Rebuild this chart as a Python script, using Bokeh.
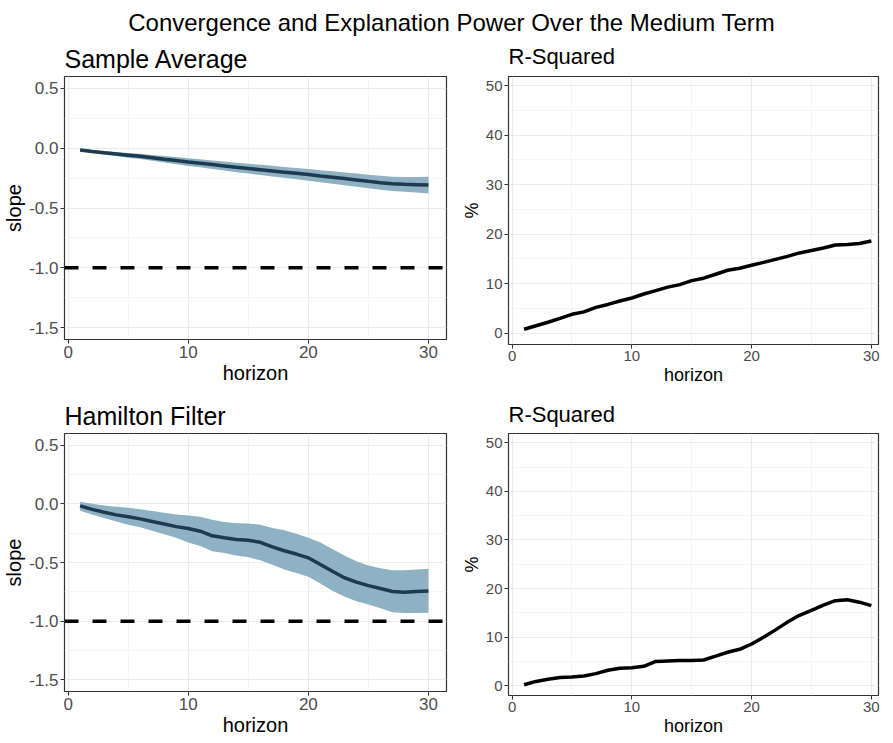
from bokeh.plotting import figure
from bokeh.layouts import column, row
from bokeh.models import Div, FixedTicker, PrintfTickFormatter, Span, Range1d
from bokeh.embed import file_html
from bokeh.resources import INLINE

# ---------------- data ----------------
horizon = list(range(1, 31))

sa_slope = [-0.015, -0.027, -0.038, -0.048, -0.058, -0.068, -0.080, -0.092, -0.103, -0.115,
            -0.126, -0.137, -0.148, -0.160, -0.170, -0.180, -0.190, -0.200, -0.210, -0.220,
            -0.232, -0.243, -0.254, -0.265, -0.277, -0.288, -0.298, -0.302, -0.305, -0.308]
sa_hi = [-0.006, -0.015, -0.023, -0.031, -0.039, -0.047, -0.056, -0.065, -0.074, -0.084,
         -0.093, -0.102, -0.111, -0.121, -0.130, -0.139, -0.147, -0.156, -0.165, -0.174,
         -0.184, -0.193, -0.202, -0.211, -0.221, -0.230, -0.238, -0.240, -0.240, -0.238]
sa_lo = [-0.024, -0.039, -0.053, -0.066, -0.079, -0.091, -0.105, -0.119, -0.133, -0.148,
         -0.160, -0.173, -0.186, -0.200, -0.212, -0.224, -0.236, -0.248, -0.260, -0.272,
         -0.285, -0.298, -0.310, -0.322, -0.335, -0.347, -0.358, -0.364, -0.370, -0.378]

hf_slope = [-0.017, -0.047, -0.072, -0.094, -0.110, -0.128, -0.150, -0.172, -0.194, -0.210,
            -0.233, -0.272, -0.289, -0.303, -0.310, -0.328, -0.367, -0.400, -0.428, -0.460,
            -0.517, -0.575, -0.630, -0.667, -0.697, -0.722, -0.747, -0.753, -0.747, -0.744]
hf_hi = [0.017, 0.000, -0.015, -0.025, -0.033, -0.045, -0.060, -0.075, -0.090, -0.100,
         -0.110, -0.136, -0.155, -0.165, -0.167, -0.178, -0.205, -0.225, -0.255, -0.289,
         -0.330, -0.385, -0.440, -0.490, -0.525, -0.550, -0.567, -0.567, -0.560, -0.553]
hf_lo = [-0.058, -0.090, -0.120, -0.150, -0.178, -0.200, -0.230, -0.260, -0.290, -0.330,
         -0.360, -0.405, -0.420, -0.440, -0.456, -0.480, -0.520, -0.560, -0.590, -0.622,
         -0.680, -0.740, -0.789, -0.830, -0.858, -0.890, -0.925, -0.930, -0.930, -0.928]

sa_r2 = [0.8, 1.5, 2.2, 3.0, 3.8, 4.3, 5.2, 5.8, 6.5, 7.1,
         7.9, 8.6, 9.3, 9.8, 10.6, 11.1, 11.9, 12.7, 13.1, 13.7,
         14.3, 14.9, 15.5, 16.2, 16.7, 17.2, 17.8, 17.9, 18.1, 18.6]
hf_r2 = [0.2, 0.9, 1.35, 1.7, 1.8, 2.0, 2.5, 3.2, 3.6, 3.7,
         4.0, 5.0, 5.1, 5.2, 5.2, 5.3, 6.1, 6.9, 7.5, 8.6,
         10.0, 11.5, 13.1, 14.5, 15.5, 16.6, 17.5, 17.7, 17.2, 16.5]

reference_slope = -1.0

x_ticks = [0, 10, 20, 30]
x_minor = [5, 15, 25]
slope_ticks = [-1.5, -1.0, -0.5, 0.0, 0.5]
slope_minor = [-1.25, -0.75, -0.25, 0.25]
r2_ticks = [0, 10, 20, 30, 40, 50]
r2_minor = [5, 15, 25, 35, 45]

main_title = "Convergence and Explanation Power Over the Medium Term"

FONT = "Liberation Sans"
BAND = "#8fb1c4"
LINE = "#1c3a50"


def style(p, title_size, title_standoff, label_size, tick_size, xt, xm, yt, ym, yfmt):
    p.title.text_font = FONT
    p.title.text_font_size = title_size
    p.title.text_font_style = "normal"
    p.title.text_color = "black"
    p.title.align = "left"
    p.title.standoff = title_standoff
    p.background_fill_color = "white"
    p.border_fill_color = None
    p.outline_line_color = "#333333"
    p.outline_line_width = 1.2
    p.xaxis.ticker = FixedTicker(ticks=xt, minor_ticks=xm)
    p.yaxis.ticker = FixedTicker(ticks=yt, minor_ticks=ym)
    p.yaxis.formatter = PrintfTickFormatter(format=yfmt)
    p.xaxis.formatter = PrintfTickFormatter(format="%d")
    for ax in (p.xaxis, p.yaxis):
        ax.axis_line_color = None
        ax.major_tick_line_color = "#333333"
        ax.major_tick_out = 4
        ax.major_tick_in = 0
        ax.minor_tick_out = 0
        ax.minor_tick_in = 0
        ax.major_label_text_font = FONT
        ax.major_label_text_font_size = tick_size
        ax.major_label_text_color = "#4d4d4d"
        ax.major_label_standoff = 2
        ax.axis_label_text_font = FONT
        ax.axis_label_text_font_size = label_size
        ax.axis_label_text_font_style = "normal"
        ax.axis_label_text_color = "black"
        ax.axis_label_standoff = 1
    p.xgrid.grid_line_color = "#ebebeb"
    p.ygrid.grid_line_color = "#ebebeb"
    p.xgrid.grid_line_width = 1
    p.ygrid.grid_line_width = 1
    p.xgrid.minor_grid_line_color = "#f2f2f2"
    p.ygrid.minor_grid_line_color = "#f2f2f2"
    p.xgrid.minor_grid_line_width = 0.8
    p.ygrid.minor_grid_line_width = 0.8


def slope_fig(title, slope, lo, hi, top, fh, bottom):
    p = figure(frame_width=382, frame_height=fh,
               x_range=Range1d(-0.3, 31.5), y_range=Range1d(-1.6, 0.6),
               output_backend="svg", toolbar_location=None, title=title,
               min_border_left=58, min_border_right=12,
               min_border_top=top, min_border_bottom=bottom,
               x_axis_label="horizon", y_axis_label="slope")
    style(p, "25px", 8, "20px", "17px", x_ticks, x_minor, slope_ticks, slope_minor, "%.1f")
    p.add_layout(Span(location=reference_slope, dimension="width", line_color="black",
                      line_width=3.5, line_dash="14 14"))
    p.varea(x=horizon, y1=lo, y2=hi, fill_color=BAND, fill_alpha=1.0)
    p.line(horizon, slope, line_width=3.5, line_color=LINE)
    return p


def r2_fig(title, r2, top, fh, bottom, y0, y1, standoff):
    p = figure(frame_width=370, frame_height=fh,
               x_range=Range1d(-0.3, 30.6), y_range=Range1d(y0, y1),
               output_backend="svg", toolbar_location=None, title=title,
               min_border_left=47, min_border_right=8,
               min_border_top=top, min_border_bottom=bottom,
               x_axis_label="horizon", y_axis_label="%")
    style(p, "22px", standoff, "18px", "15px", x_ticks, x_minor, r2_ticks, r2_minor, "%d")
    p.line(horizon, r2, line_width=3.5, line_color="black")
    return p


p_tl = slope_fig("Sample Average", sa_slope, sa_lo, sa_hi, 48, 263, 49)
p_tr = r2_fig("R-Squared", sa_r2, 44, 268, 40, -2.29, 51.82, 15)
p_bl = slope_fig("Hamilton Filter", hf_slope, hf_lo, hf_hi, 45, 258, 40)
p_br = r2_fig("R-Squared", hf_r2, 42, 262, 40, -2.0, 51.9, 13)

title_div = Div(
    text=('<div style="width:100%;text-align:center;padding-top:11px;'
          'font-family:\'Liberation Sans\',Arial,sans-serif;font-size:24px;line-height:24px;'
          'color:black;white-space:nowrap;">' + main_title + '</div>'),
    width=851, height=28, margin=(0, 0, 0, 26),
    styles={"text-align": "center", "overflow": "visible"})

layout = column(title_div, row(p_tl, p_tr), row(p_bl, p_br))

open("out.html", "w").write(file_html(layout, INLINE))
